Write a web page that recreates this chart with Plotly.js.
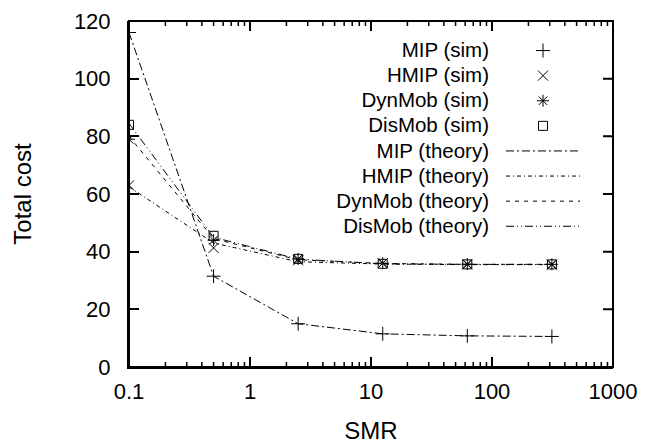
<!DOCTYPE html>
<html>
<head>
<meta charset="utf-8">
<script src="https://cdn.plot.ly/plotly-3.0.1.min.js"></script>
<style>html,body{margin:0;padding:0;background:#fff;}
#wrap{position:relative;width:649px;height:448px;}
#chart{position:absolute;left:0;top:0;width:649px;height:448px;}
#frame{position:absolute;left:0;top:0;width:649px;height:448px;pointer-events:none;z-index:5;}</style>
</head>
<body>
<div id="wrap"><div id="chart"></div><svg id="frame" xmlns="http://www.w3.org/2000/svg" width="649" height="448"></svg></div>
<script>
const smr = [0.1, 0.5, 2.5, 12.5, 62.5, 312.5];
const mipSim = [116, 31.5, 15, 11.5, 10.8, 10.6];
const hmipSim = [63, 41.3, 37, 36, 35.6, 35.5];
const dynSim = [79, 44, 37.5, 36, 35.7, 35.6];
const disSim = [84, 45.5, 37.5, 35.8, 35.6, 35.6];
const mipTheory = [116, 31.5, 15, 11.5, 10.8, 10.6];
const hmipTheory = [62.5, 43, 36.5, 35.7, 35.5, 35.5];
const dynTheory = [80, 44.5, 37.2, 35.9, 35.6, 35.6];
const disTheory = [84.5, 45, 37.4, 35.8, 35.6, 35.6];
const labels = ["MIP (sim)", "HMIP (sim)", "DynMob (sim)", "DisMob (sim)",
                "MIP (theory)", "HMIP (theory)", "DynMob (theory)", "DisMob (theory)"];
const xTicks = [0.1, 1, 10, 100, 1000];
const xTickText = ["0.1", "1", "10", "100", "1000"];
const yTicks = [0, 20, 40, 60, 80, 100, 120];
const decades = [0.1, 1, 10, 100];
const minorMult = [2, 3, 4, 5, 6, 7, 8, 9];
const xMinorTicks = decades.flatMap(d => minorMult.map(m => d * m));

const FONT = "Liberation Sans, Arial, Helvetica, sans-serif";
function simTrace(y, name, sym, size) {
  return {x: smr, y: y, type: "scatter", mode: "markers", name: name,
    marker: {symbol: sym, size: size, color: "#000", line: {color: "#000", width: 1}}};
}
function thTrace(y, name, dash) {
  return {x: smr, y: y, type: "scatter", mode: "lines", name: name,
    line: {color: "#000", width: 1, dash: dash}};
}
const data = [
  simTrace(mipSim, labels[0], "cross-thin-open", 10),
  simTrace(hmipSim, labels[1], "x-thin-open", 10),
  simTrace(dynSim, labels[2], "asterisk-open", 10),
  simTrace(disSim, labels[3], "square-open", 9),
  thTrace(mipTheory, labels[4], "8px,3px,2px,3px"),
  thTrace(hmipTheory, labels[5], "4px,3px,1px,3px"),
  thTrace(dynTheory, labels[6], "4px,5px"),
  thTrace(disTheory, labels[7], "8px,3px,1px,3px,1px,3px")
];

const L = 129, R = 613, T = 21, B = 367;
const W = R - L, H = B - T;
const XMIN = -1, XMAX = 3, YMAX = 120;
const xFrac = v => (Math.log10(v) - XMIN) / (XMAX - XMIN);

// frame plus gnuplot-style mirrored / minor ticks (axis decoration), as paper fractions
const majorSegs = [], minorSegs = [];
xTicks.slice(1, -1).forEach(v => { const f = xFrac(v); majorSegs.push([f, 1, f, 1 - 10 / H]); });
xMinorTicks.forEach(v => {
  const f = xFrac(v);
  minorSegs.push([f, 0, f, 5 / H]);
  minorSegs.push([f, 1, f, 1 - 5 / H]);
});
yTicks.slice(1, -1).forEach(v => { const f = v / YMAX; majorSegs.push([1, f, 1 - 10 / W, f]); });

// overlay drawn independently of the plot pipeline
const NS = "http://www.w3.org/2000/svg";
const frameSvg = document.getElementById("frame");
function addPath(d, w) {
  const p = document.createElementNS(NS, "path");
  p.setAttribute("d", d);
  p.setAttribute("fill", "none");
  p.setAttribute("stroke", "#000");
  p.setAttribute("stroke-width", w);
  frameSvg.appendChild(p);
}
const px = f => L + f * W, py = f => T + (1 - f) * H;
addPath(`M${L},${T}H${R}V${B}H${L}Z`, 2);
addPath(majorSegs.map(a => `M${px(a[0])},${py(a[1])}L${px(a[2])},${py(a[3])}`).join(""), 2);
addPath(minorSegs.map(a => `M${px(a[0])},${py(a[1])}L${px(a[2])},${py(a[3])}`).join(""), 1.5);

const layout = {
  width: 649, height: 448,
  margin: {l: L, r: 649 - R, t: T, b: 448 - B, autoexpand: false},
  paper_bgcolor: "#fff", plot_bgcolor: "#fff",
  font: {family: FONT, size: 20, color: "#000"},
  showlegend: true,
  legend: {x: (523 - L) / W, xanchor: "left", y: 1 - (33 - T) / H, yanchor: "top",
    bgcolor: "rgba(0,0,0,0)", font: {family: FONT, size: 17}, tracegroupgap: 0},
  xaxis: {type: "log", range: [XMIN, XMAX], tickvals: xTicks, ticktext: xTickText,
    ticks: "inside", ticklen: 10, tickwidth: 2, tickcolor: "#000",
    showline: true, linewidth: 2, linecolor: "#000",
    showgrid: false, zeroline: false, ticklabelstandoff: 4,
    tickfont: {family: FONT, size: 22},
    title: {text: "SMR", font: {family: FONT, size: 24}, standoff: 19}},
  yaxis: {range: [0, YMAX], tickvals: yTicks,
    ticks: "inside", ticklen: 10, tickwidth: 2, tickcolor: "#000",
    showline: true, linewidth: 2, linecolor: "#000",
    showgrid: false, zeroline: false, ticklabelstandoff: 12,
    tickfont: {family: FONT, size: 22},
    title: {text: "Total cost", font: {family: FONT, size: 24}, standoff: 35}}
};

const gd = document.getElementById("chart");
Plotly.newPlot(gd, data, layout, {staticPlot: true, displayModeBar: false}).then(() => {
  // gnuplot-style key: label right-aligned to the left of the sample, longer line samples
  gd.querySelectorAll(".legend [clip-path]").forEach(e => e.removeAttribute("clip-path"));
  gd.querySelectorAll(".legend .traces").forEach(g => {
    const t = g.querySelector("text.legendtext");
    if (t) {
      t.setAttribute("x", -34);
      t.setAttribute("text-anchor", "end");
      t.style.textAnchor = "end";
      t.style.fontSize = "20.5px";
    }
    g.querySelectorAll(".legendlines path").forEach(p => p.setAttribute("d", "M-17,0h74"));
  });
});
</script>
</body>
</html>
